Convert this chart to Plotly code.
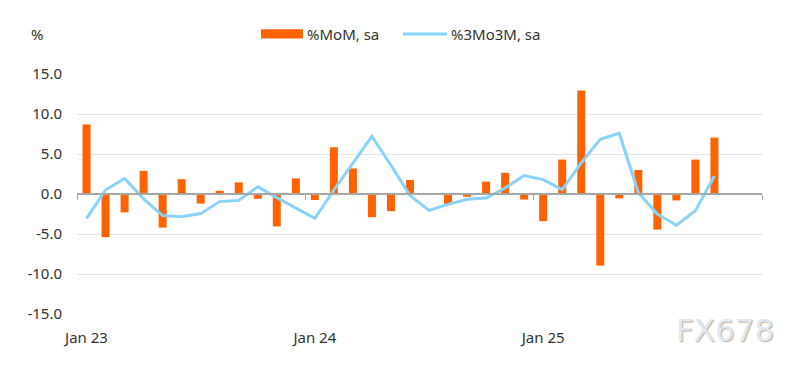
import plotly.graph_objects as go

months = [f"{m} {y}" for y in ["23", "24", "25"] for m in
          ["Jan", "Feb", "Mar", "Apr", "May", "Jun", "Jul", "Aug", "Sep", "Oct", "Nov", "Dec"]]

mom = [8.7, -5.4, -2.3, 2.9, -4.2, 1.85, -1.2, 0.4, 1.45, -0.6, -4.05, 1.95,
       -0.75, 5.85, 3.2, -2.9, -2.15, 1.75, 0.0, -1.3, -0.35, 1.55, 2.65, -0.7,
       -3.4, 4.3, 12.95, -8.95, -0.55, 3.0, -4.45, -0.8, 4.3, 7.05]

m3m3 = [-3.05, 0.5, 1.95, -0.6, -2.7, -2.85, -2.45, -0.95, -0.8, 0.9, -0.45, -1.8,
        -3.05, 0.5, 3.8, 7.2, 3.6, -0.2, -2.05, -1.3, -0.65, -0.5, 0.75, 2.3,
        1.8, 0.55, 3.9, 6.85, 7.6, 0.15, -2.5, -3.9, -2.1, 2.25]

series_names = ["%MoM, sa", "%3Mo3M, sa"]
x_tick_vals = ["Jan 23", "Jan 24", "Jan 25"]
y_ticks = [-15, -10, -5, 0, 5, 10, 15]
y_tick_text = [f"{v:.1f}" for v in y_ticks]

FONT = "Noto Sans"
TXT = "#333333"
ORANGE = "#FF6200"
BLUE = "#89D3FA"
FS = 15

fig = go.Figure()
fig.add_trace(go.Bar(x=months[:len(mom)], y=mom, name=series_names[0],
                     marker=dict(color=ORANGE, line=dict(width=0)), width=0.42))
fig.add_trace(go.Scatter(x=months[:len(m3m3)], y=m3m3, name=series_names[1], mode="lines",
                         line=dict(color=BLUE, width=3)))
# carrier for the zero axis with year-boundary ticks
fig.add_trace(go.Scatter(x=[None], y=[None], xaxis="x2", showlegend=False,
                         hoverinfo="skip", mode="lines"))

# legend drawn as layout items (wide swatches as in the original)
LEG_Y = 1.167
shapes = [
    dict(type="rect", xref="paper", yref="paper", x0=0.2686, x1=0.3299,
         y0=1.148, y1=1.186, fillcolor=ORANGE, line=dict(width=0)),
    dict(type="line", xref="paper", yref="paper", x0=0.4759, x1=0.5401,
         y0=LEG_Y, y1=LEG_Y, line=dict(color=BLUE, width=3)),
]
legend_annots = [
    dict(text=series_names[0], xref="paper", yref="paper", x=0.333, y=LEG_Y,
         xanchor="left", yanchor="middle", showarrow=False,
         font=dict(family=FONT, size=FS, color=TXT)),
    dict(text=series_names[1], xref="paper", yref="paper", x=0.543, y=LEG_Y,
         xanchor="left", yanchor="middle", showarrow=False,
         font=dict(family=FONT, size=FS, color=TXT)),
]

# the page body adds an 8px offset; compensate so the plot area lands where it should
fig.update_layout(
    width=796, height=357,
    margin=dict(l=69, r=42, t=66, b=51, autoexpand=False),
    paper_bgcolor="white", plot_bgcolor="white",
    font=dict(family=FONT, size=FS, color=TXT),
    showlegend=False,
    xaxis=dict(type="category", categoryorder="array", categoryarray=months,
               range=[-0.5, len(months) - 0.5], tickvals=x_tick_vals, ticktext=x_tick_vals,
               ticks="", showline=False, showgrid=False, zeroline=False,
               ticklabelstandoff=13, tickfont=dict(size=FS, color=TXT)),
    xaxis2=dict(overlaying="x", anchor="free", position=0.5, type="linear",
                range=[-0.5, len(months) - 0.5],
                tickvals=[-0.5, 11.5, 23.5, 35.5], ticks="outside", ticklen=5,
                tickcolor="#a6a6a6", tickwidth=1, showticklabels=False,
                showline=True, linecolor="#a6a6a6", linewidth=2,
                showgrid=False, zeroline=False),
    yaxis=dict(range=[-15, 15], tickvals=y_ticks, ticktext=y_tick_text,
               showgrid=True, gridcolor="#e3e3e3", gridwidth=1, zeroline=False,
               showline=False, ticks="", ticklabelstandoff=14,
               tickfont=dict(size=FS, color=TXT)),
    shapes=shapes,
    annotations=legend_annots + [
        dict(text="%", xref="paper", yref="paper", x=-0.058, y=1.165,
             xanchor="center", yanchor="middle", showarrow=False,
             font=dict(family=FONT, size=FS, color=TXT)),
        dict(text="FX678", xref="paper", yref="paper", x=0.946, y=-0.068,
             xanchor="center", yanchor="middle", showarrow=False,
             font=dict(family="DejaVu Sans", size=31, color="#dce9f7",
                       shadow="1px 1px 1px #c9ad96")),
    ],
)

fig.write_html("out.html")
